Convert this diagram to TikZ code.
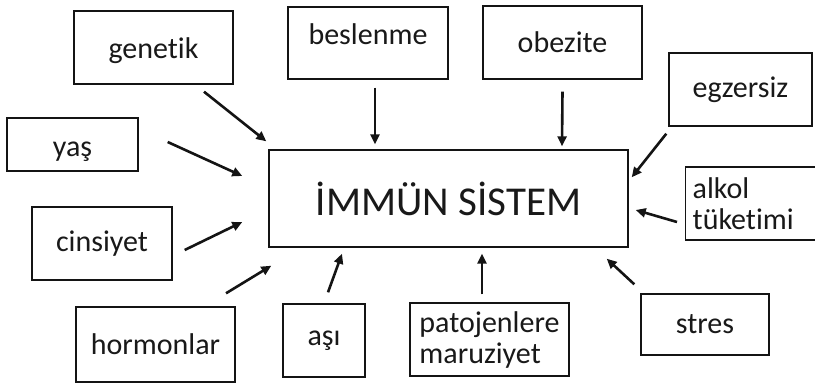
\documentclass[tikz,border=0pt]{standalone}
\usepackage{fontspec}
\setmainfont{Carlito}[Ligatures=NoCommon]
\usetikzlibrary{arrows.meta}
\definecolor{InkBlack}{RGB}{20,20,20}
\definecolor{TextGray}{RGB}{25,25,25}
\tikzset{
  factor/.style={draw=InkBlack,line width=1.4pt,fill=white,align=left,inner sep=0pt,
    text=TextGray,font=\fontsize{30}{31}\selectfont},
  core/.style={draw=InkBlack,line width=1.4pt,fill=white,align=center,inner sep=0pt,
    text=TextGray,font=\fontsize{41}{44}\selectfont},
  push/.style={-{Triangle[length=10pt,width=9pt]},line width=2.6pt,draw=InkBlack}
}
\begin{document}
\begin{tikzpicture}[x=1pt,y=-1pt]
  \useasboundingbox (0,0) rectangle (815,384);
  % the centre
  \node[core,minimum width=359pt,minimum height=97pt] (immun) at (448.5,198.5) {İMMÜN SİSTEM};

  % influences, top row
  \node[factor,minimum width=159pt,minimum height=73pt,text height=27pt] (genetik) at (153.5,47.5) {genetik};
  \node[factor,minimum width=160pt,minimum height=72pt,text depth=18pt] (beslenme) at (368,43) {beslenme};
  \node[factor,minimum width=159pt,minimum height=73pt] (obezite) at (562.5,42.5) {obezite};
  \node[factor,minimum width=143pt,minimum height=73pt] (egzersiz) at (740.5,89.5) {egzersiz};

  % influences, sides
  \node[factor,minimum width=131pt,minimum height=53pt,text height=30pt] (yas) at (72.5,144.5) {yaş};
  \node[factor,minimum width=140pt,minimum height=73pt] (cinsiyet) at (102,243.5) {cinsiyet};
  \node[factor,anchor=west,minimum width=140pt,minimum height=73pt,text width=126pt,
    inner xsep=7pt] (alkol) at (685,203.5) {alkol\\tüketimi};

  % influences, bottom row
  \node[factor,minimum width=159pt,minimum height=75pt] (hormonlar) at (155.5,344.5) {hormonlar};
  \node[factor,minimum width=82pt,minimum height=73pt] (asi) at (324,340.5) {aşı};
  \node[factor,minimum width=159pt,minimum height=73pt] (patojen) at (489.5,339.5) {patojenlere\\maruziyet};
  \node[factor,minimum width=128pt,minimum height=61pt] (stres) at (705,324.5) {stres};

  \draw[push] ([shift={(50.5,7)}]genetik.south) -- ([shift={(-2,-8)}]immun.north west);
  \draw[push] ([shift={(7,8)}]beslenme.south) -- ([shift={(-73.5,-5)}]immun.north);
  \draw[push] ([shift={(0,12)}]obezite.south) -- ([shift={(113.5,-3)}]immun.north);
  \draw[push] ([shift={(-2,7)}]egzersiz.south west) -- ([shift={(3,28)}]immun.north east);
  \draw[push] ([shift={(29,-2.5)}]yas.east) -- ([shift={(-26,-22.5)}]immun.west);
  \draw[push] ([shift={(12,6.5)}]cinsiyet.east) -- ([shift={(-26,23.5)}]immun.west);
  \draw[push] ([shift={(-8,18.5)}]alkol.west) -- ([shift={(7,11.5)}]immun.east);
  \draw[push] ([shift={(70.5,-13)}]hormonlar.north) -- ([shift={(3,18)}]immun.south west);
  \draw[push] ([shift={(4,-11)}]asi.north) -- ([shift={(-106.5,6)}]immun.south);
  \draw[push] ([shift={(-7.5,-8)}]patojen.north) -- ([shift={(33.5,6)}]immun.south);
  \draw[push] ([shift={(-6,-9)}]stres.north west) -- ([shift={(-22,11)}]immun.south east);
\end{tikzpicture}
\end{document}
